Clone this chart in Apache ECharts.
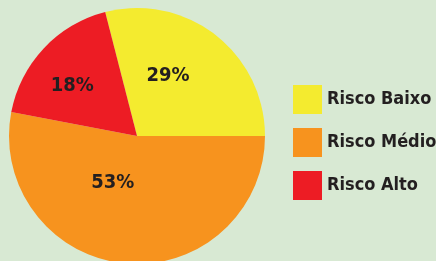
<!DOCTYPE html>
<html>
<head>
<meta charset="utf-8">
<script src="https://cdn.jsdelivr.net/npm/echarts@6/dist/echarts.min.js"></script>
<style>
  html, body { margin: 0; padding: 0; background: #d8e9d3; }
  #risk_chart { width: 436px; height: 261px; }
</style>
</head>
<body>
<div id="risk_chart"></div>
<script>
const categories = ['Risco Baixo', 'Risco Médio', 'Risco Alto'];
const percents = [29, 53, 18];
const colors = ['#f4eb2f', '#f7931e', '#ed1c24'];

function draw_risk_chart() {
  var dom = document.getElementById('risk_chart');
  var myChart = echarts.init(dom, null, { renderer: 'canvas' });
  var font = '"DejaVu Sans Condensed", sans-serif';
  // nudge the inside labels to where the original puts them
  var labelOffsets = [[-10, -7], [-18, -20], [-16, -4]];

  var data = [];
  for (let i = 0; i < categories.length; ++i) {
    data.push({
      name: categories[i],
      value: percents[i],
      label: { offset: labelOffsets[i] }
    });
  }

  var option = {
    backgroundColor: '#d8e9d3',
    color: colors,
    animation: false,
    legend: {
      orient: 'vertical',
      left: 288,
      top: 80,
      itemWidth: 29,
      itemHeight: 29,
      itemGap: 14,
      icon: 'rect',
      textStyle: {
        fontFamily: font,
        fontWeight: 'bold',
        fontSize: 18,
        color: '#231f20'
      },
      data: categories
    },
    series: [
      {
        type: 'pie',
        center: [137, 136],
        radius: 128,
        startAngle: 104.4,
        data: data,
        itemStyle: { borderWidth: 0 },
        label: {
          position: 'inside',
          formatter: '{c}%',
          fontFamily: font,
          fontWeight: 'bold',
          fontSize: 20,
          color: '#231f20'
        },
        labelLine: { show: false },
        emphasis: { disabled: true }
      }
    ]
  };
  myChart.setOption(option);
  window.addEventListener('resize', myChart.resize);
}
draw_risk_chart();
</script>
</body>
</html>
